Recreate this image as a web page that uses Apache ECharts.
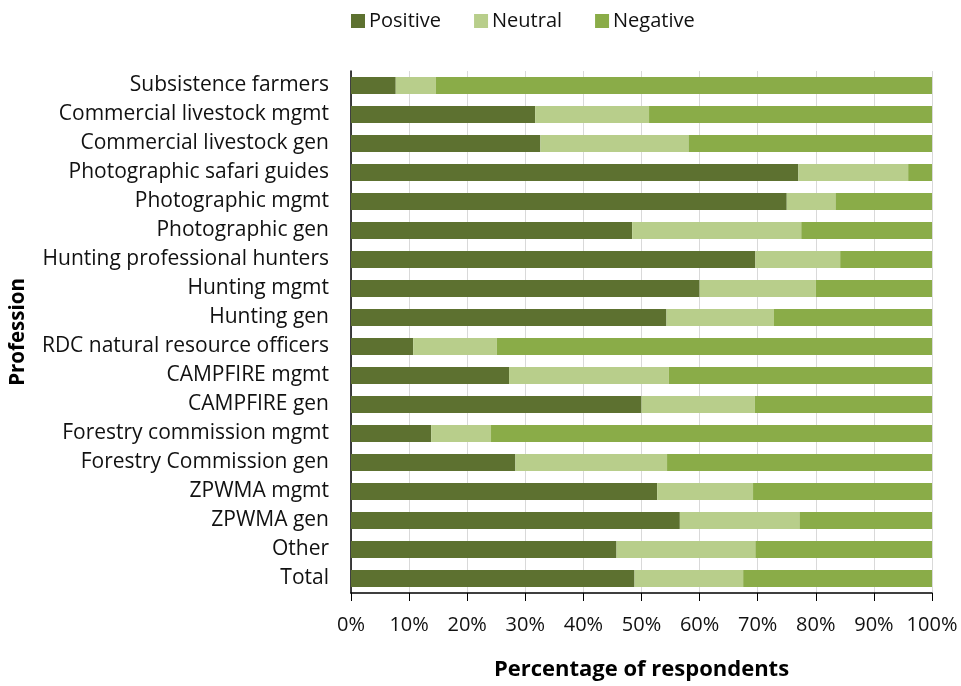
<!DOCTYPE html>
<html>
<head>
<meta charset="utf-8">
<script src="https://cdn.jsdelivr.net/npm/echarts@6/dist/echarts.min.js"></script>
<style>
  html, body { margin: 0; padding: 0; background: #fff; }
  #chart { width: 961px; height: 686px; }
</style>
</head>
<body>
<div id="chart"></div>
<script>
// Attitudes by profession (share of respondents, %)
const professions = [
  'Subsistence farmers',
  'Commercial livestock mgmt',
  'Commercial livestock gen',
  'Photographic safari guides',
  'Photographic mgmt',
  'Photographic gen',
  'Hunting professional hunters',
  'Hunting mgmt',
  'Hunting gen',
  'RDC natural resource officers',
  'CAMPFIRE mgmt',
  'CAMPFIRE gen',
  'Forestry commission mgmt',
  'Forestry Commission gen',
  'ZPWMA mgmt',
  'ZPWMA gen',
  'Other',
  'Total'
];
const positive = [7.7, 31.7, 32.6, 77.0, 75.0, 48.4, 69.6, 60.0, 54.3, 10.7, 27.2, 50.0, 13.8, 28.3, 52.7, 56.6, 45.7, 48.8];
const neutral  = [6.9, 19.6, 25.5, 18.9, 8.4, 29.1, 14.6, 20.0, 18.5, 14.4, 27.5, 19.5, 10.3, 26.1, 16.5, 20.6, 23.9, 18.7];
const negative = [85.4, 48.7, 41.9, 4.1, 16.6, 22.5, 15.8, 20.0, 27.2, 74.9, 45.3, 30.5, 75.9, 45.6, 30.8, 22.8, 30.4, 32.5];
const xTicks = [0, 10, 20, 30, 40, 50, 60, 70, 80, 90, 100];

const FONT = '"Open Sans", Lato, sans-serif';
const colors = { Positive: '#5d7130', Neutral: '#b8ce8b', Negative: '#8aac48' };

const chart = echarts.init(document.getElementById('chart'), null, { renderer: 'canvas' });

function bar(name, values) {
  return {
    name: name,
    type: 'bar',
    stack: 'share',
    data: values,
    barWidth: 17,
    itemStyle: { color: colors[name] },
    emphasis: { disabled: true }
  };
}

chart.setOption({
  animation: false,
  textStyle: { fontFamily: FONT },
  legend: {
    top: 6,
    left: 346,
    itemWidth: 14,
    itemHeight: 14,
    itemGap: 33,
    icon: 'rect',
    textStyle: { fontSize: 20, color: '#111', fontFamily: FONT, padding: [0, 0, 0, -1] },
    data: ['Positive', 'Neutral', 'Negative']
  },
  grid: { left: 349, right: 29, top: 71, bottom: 83, containLabel: false },
  xAxis: {
    type: 'value',
    min: xTicks[0],
    max: xTicks[xTicks.length - 1],
    interval: xTicks[1] - xTicks[0],
    name: 'Percentage of respondents',
    nameLocation: 'middle',
    nameGap: 66,
    nameTextStyle: { fontSize: 22, fontWeight: 'bold', color: '#000', fontFamily: FONT },
    axisLine: { show: true, lineStyle: { color: '#000', width: 1.5 } },
    axisTick: { show: true, length: 8, lineStyle: { color: '#000' } },
    axisLabel: { formatter: '{value}%', fontSize: 20, color: '#111', margin: 22, fontFamily: FONT },
    splitLine: { show: true, lineStyle: { color: '#d9d9d9', width: 1 } }
  },
  yAxis: {
    type: 'category',
    inverse: true,
    data: professions,
    name: 'Profession',
    nameLocation: 'middle',
    nameGap: 322,
    nameRotate: 90,
    nameTextStyle: { fontSize: 20.5, fontWeight: 'bold', color: '#000', fontFamily: FONT },
    axisLine: { show: true, lineStyle: { color: '#000', width: 1.5 } },
    axisTick: { show: false },
    axisLabel: { fontSize: 21, color: '#111', margin: 22, fontFamily: FONT }
  },
  series: [
    bar('Positive', positive),
    bar('Neutral', neutral),
    bar('Negative', negative)
  ]
});
</script>
</body>
</html>
